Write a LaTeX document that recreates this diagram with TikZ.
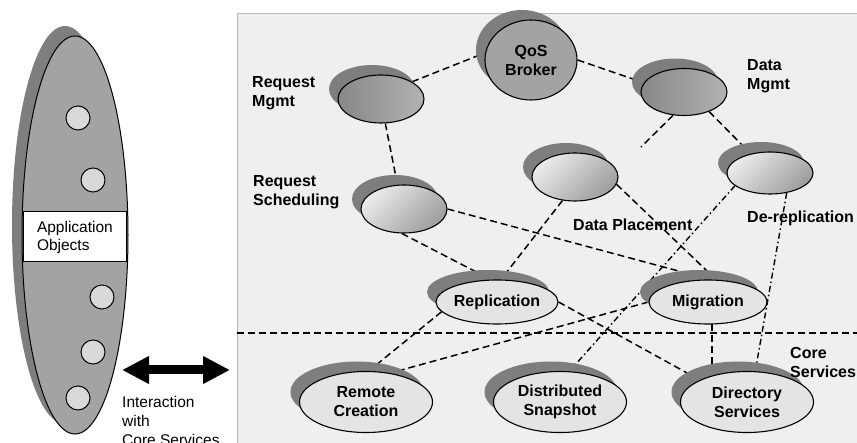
\documentclass[tikz,border=0pt]{standalone}
\usepackage{fontspec}
\setmainfont{Liberation Sans}
\usetikzlibrary{shapes.geometric,shadows,arrows.meta}
\pgfdeclarelayer{panel}
\pgfdeclarelayer{links}
\pgfsetlayers{panel,links,main}

\definecolor{panelbg}{HTML}{EFEFEF}
\definecolor{panelrule}{HTML}{B8B8B8}
\definecolor{shadegray}{HTML}{7E7E7E}
\definecolor{bodygray}{HTML}{A3A3A3}
\definecolor{dotfill}{HTML}{D9D9D9}
\definecolor{svcfill}{HTML}{E4E4E4}

\tikzset{
  svc/.style={ellipse, draw, line width=1.1pt, inner sep=0pt, align=center,
    font=\bfseries\fontsize{16}{19}\selectfont,
    general shadow={fill=shadegray, shadow xshift=-9pt, shadow yshift=10pt}},
  svcFlat/.style={fill=svcfill},
  gradDark/.style={left color=black!47, right color=black!30},
  gradLight/.style={shading=axis, top color=black!8, bottom color=black!38, shading angle=45},
  link/.style={line width=1.5pt, dash pattern=on 7pt off 4pt},
  dotlink/.style={line width=1.4pt, dash pattern=on 6pt off 3pt on 1.5pt off 3pt},
  lbl/.style={font=\bfseries\fontsize{16}{19}\selectfont, align=left, anchor=west, inner sep=0pt},
  obj/.style={circle, draw, fill=dotfill, minimum size=24pt, inner sep=0pt, line width=1pt},
}

\begin{document}
\begin{tikzpicture}[x=1pt, y=-1pt]
\useasboundingbox (0,0) rectangle (857,443);

% services panel
\begin{pgfonlayer}{panel}
  \draw[panelrule, fill=panelbg, line width=0.8pt] (237.5,13.5) rectangle (870,460);
\end{pgfonlayer}

% application side
\node[ellipse, draw, line width=1pt, fill=bodygray, minimum width=106pt, minimum height=398pt,
  general shadow={fill=shadegray, shadow xshift=-10pt, shadow yshift=10pt}] (app) at (75,235) {};
\node[obj] (o1) at (78,118) {};
\node[obj] (o2) at (93,180) {};
\node[obj] (o3) at (102,297) {};
\node[obj] (o4) at (93,352) {};
\node[obj] (o5) at (78,398) {};
\node[draw, fill=white, line width=1pt, text width=75pt, inner xsep=14pt, inner ysep=0pt,
  minimum height=50pt, align=left, font=\fontsize{15.5}{18}\selectfont] (objs) at (74.5,237)
  {Application\\Objects};

\coordinate (al) at (122,370);
\coordinate (ar) at (230,370);
\draw[line width=9pt, {Triangle[width=26pt,length=27pt]}-{Triangle[width=26pt,length=27pt]}] (al) -- (ar);
\node[anchor=north west, align=left, inner sep=0pt, font=\fontsize{15.5}{19}\selectfont] (inter)
  at (122,396) {Interaction\\with\\Core Services};

% service nodes
\node[svc, fill=bodygray, minimum width=92pt, minimum height=80pt] (qos) at (531,60) {QoS\\Broker};
\node[svc, gradDark, minimum width=86pt, minimum height=48pt] (rm) at (381,99) {};
\node[svc, gradDark, minimum width=86pt, minimum height=47pt] (dm) at (684,92) {};
\node[svc, gradLight, minimum width=86pt, minimum height=48pt] (rs) at (404,209) {};
\node[svc, gradLight, minimum width=86pt, minimum height=48pt] (dp) at (575,177) {};
\node[svc, gradLight, minimum width=86pt, minimum height=42pt] (dr) at (770,173) {};
\node[svc, svcFlat, minimum width=116pt, minimum height=44pt] (rep) at (497,302) {Replication};
\node[svc, svcFlat, minimum width=118pt, minimum height=44pt] (mig) at (708,302) {Migration};
\node[svc, svcFlat, minimum width=133pt, minimum height=61pt] (rc) at (366,402) {Remote\\Creation};
\node[svc, svcFlat, minimum width=133pt, minimum height=61pt] (ds) at (560,402) {Distributed\\Snapshot};
\node[svc, svcFlat, minimum width=133pt, minimum height=61pt] (dir) at (747,402) {Directory\\Services};

% labels
\node[lbl] (lrm) at (252,93) {Request\\Mgmt};
\node[lbl] (lrs) at (253,192) {Request\\Scheduling};
\node[lbl] (ldm) at (747,76) {Data\\Mgmt};
\node[lbl] (ldr) at (747,218) {De-replication};
\node[lbl] (ldp) at (573,225) {Data Placement};
\node[lbl] (lcs) at (790,362) {Core\\Services};

% connectors
\coordinate (cl) at (237,333);
\coordinate (cr) at (857,333);
\coordinate (dmend) at (641,147);
\begin{pgfonlayer}{links}
  \draw[link] (cl) -- (cr);
  \draw[link] (rm.29) -- (qos.171);
  \draw[link] (qos.0) -- (dm.167);
  \draw[link] (rm.-80) -- (rs.105);
  \draw[link] (dm.-115) -- (dmend);
  \draw[link] (dm.-38) -- (dr.135);
  \draw[link] (rs.0) -- (mig.85);
  \draw[link] (dp.-10) -- (mig.70);
  \draw[link] (dp.-118) -- (rep.80);
  \draw[link] (rs.-95) -- (rep.105);
  \draw[dotlink] (dr.-160) -- (ds.73);
  \draw[dotlink] (dr.-50) -- (dir.75);
  \draw[link] (rep.0) -- (dir.155);
  \draw[link] (rep.190) -- (rc.85);
  \draw[link] (mig.180) -- (rc.50);
  \draw[link] (mig.-80) -- (mig.-80 |- dir.north);
\end{pgfonlayer}
\end{tikzpicture}
\end{document}
